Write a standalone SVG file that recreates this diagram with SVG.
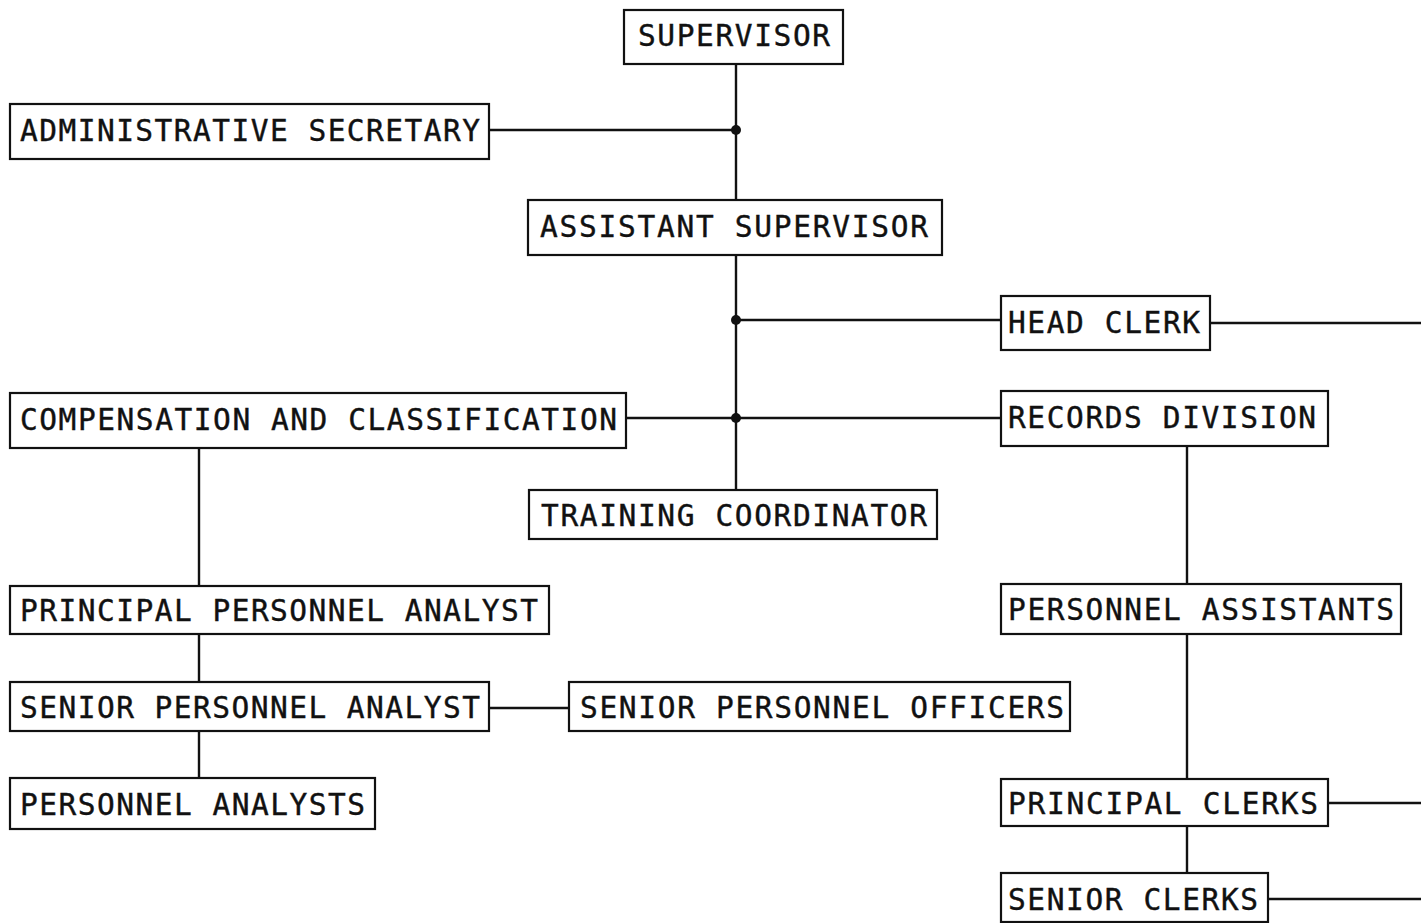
<svg xmlns="http://www.w3.org/2000/svg" width="1421" height="923" viewBox="0 0 1421 923">
<style>
.box{fill:#fff;stroke:#111;stroke-width:2.2}
.t{font-family:"DejaVu Sans Mono","Liberation Mono",monospace;font-size:29.5px;fill:#111;stroke:#111;stroke-width:0.4}
.c{stroke:#111;stroke-width:2.4;fill:none}
</style>
<rect width="1421" height="923" fill="#fff"/>
<g id="connectors">
<path class="c" d="M736 64V490"/>
<path class="c" d="M489 130H736"/>
<path class="c" d="M736 320H1001"/>
<path class="c" d="M626 418H1001"/>
<path class="c" d="M1210 323H1421"/>
<path class="c" d="M199 448V586M199 634V682M199 731V778"/>
<path class="c" d="M489 708H569"/>
<path class="c" d="M1187 446V584M1187 634V779M1187 826V873"/>
<path class="c" d="M1328 803H1421"/>
<path class="c" d="M1268 899H1421"/>
<circle cx="736" cy="130" r="5" fill="#111"/>
<circle cx="736" cy="320" r="5" fill="#111"/>
<circle cx="736" cy="418" r="5" fill="#111"/>
</g>
<g id="supervisor"><rect class="box" x="624" y="10" width="219" height="54"/><text class="t" x="638" y="46" textLength="192" lengthAdjust="spacing">SUPERVISOR</text></g>
<g id="admin-secretary"><rect class="box" x="10" y="104" width="479" height="55"/><text class="t" x="20" y="141" textLength="460" lengthAdjust="spacing">ADMINISTRATIVE SECRETARY</text></g>
<g id="assistant-supervisor"><rect class="box" x="528" y="200" width="414" height="55"/><text class="t" x="540" y="237" textLength="388" lengthAdjust="spacing">ASSISTANT SUPERVISOR</text></g>
<g id="head-clerk"><rect class="box" x="1001" y="296" width="209" height="54"/><text class="t" x="1008" y="333" textLength="192" lengthAdjust="spacing">HEAD CLERK</text></g>
<g id="compensation"><rect class="box" x="10" y="393" width="616" height="55"/><text class="t" x="20" y="430" textLength="597" lengthAdjust="spacing">COMPENSATION AND CLASSIFICATION</text></g>
<g id="records-division"><rect class="box" x="1001" y="391" width="327" height="55"/><text class="t" x="1008" y="428" textLength="308" lengthAdjust="spacing">RECORDS DIVISION</text></g>
<g id="training-coordinator"><rect class="box" x="529" y="490" width="408" height="49"/><text class="t" x="541" y="526" textLength="386" lengthAdjust="spacing">TRAINING COORDINATOR</text></g>
<g id="principal-personnel-analyst"><rect class="box" x="10" y="586" width="539" height="48"/><text class="t" x="20" y="621" textLength="518" lengthAdjust="spacing">PRINCIPAL PERSONNEL ANALYST</text></g>
<g id="personnel-assistants"><rect class="box" x="1001" y="584" width="400" height="50"/><text class="t" x="1008" y="620" textLength="386" lengthAdjust="spacing">PERSONNEL ASSISTANTS</text></g>
<g id="senior-personnel-analyst"><rect class="box" x="10" y="682" width="479" height="49"/><text class="t" x="20" y="718" textLength="460" lengthAdjust="spacing">SENIOR PERSONNEL ANALYST</text></g>
<g id="senior-personnel-officers"><rect class="box" x="569" y="682" width="501" height="49"/><text class="t" x="580" y="718" textLength="484" lengthAdjust="spacing">SENIOR PERSONNEL OFFICERS</text></g>
<g id="personnel-analysts"><rect class="box" x="10" y="778" width="365" height="51"/><text class="t" x="20" y="815" textLength="345" lengthAdjust="spacing">PERSONNEL ANALYSTS</text></g>
<g id="principal-clerks"><rect class="box" x="1001" y="779" width="327" height="47"/><text class="t" x="1008" y="814" textLength="310" lengthAdjust="spacing">PRINCIPAL CLERKS</text></g>
<g id="senior-clerks"><rect class="box" x="1001" y="873" width="267" height="49"/><text class="t" x="1008" y="910" textLength="250" lengthAdjust="spacing">SENIOR CLERKS</text></g>
</svg>
